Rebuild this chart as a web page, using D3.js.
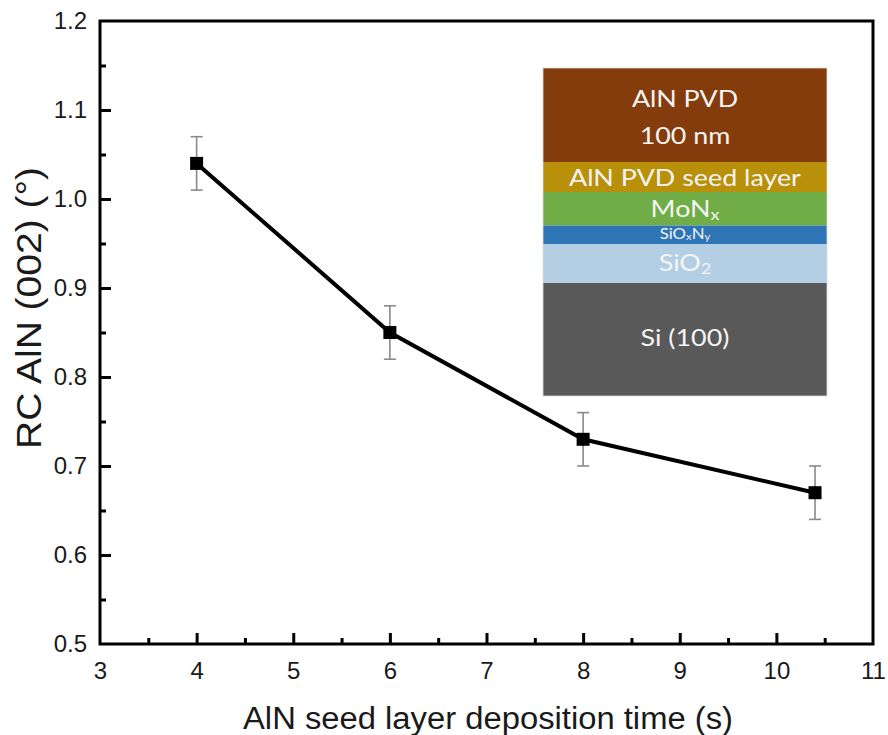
<!DOCTYPE html>
<html>
<head>
<meta charset="utf-8">
<script src="https://cdn.jsdelivr.net/npm/d3@7"></script>
<style>
  html, body { margin: 0; padding: 0; background: #fff; }
  svg { display: block; }
</style>
</head>
<body>
<svg id="chart" width="888" height="735"></svg>
<script>
// ---- Data ----
const depositionTime = [4, 6, 8, 10.4];
const rcValues = [1.04, 0.85, 0.73, 0.67];
const rcErrors = [0.03, 0.03, 0.03, 0.03];
const xTicks = [3, 4, 5, 6, 7, 8, 9, 10, 11];
const yTicks = [0.5, 0.6, 0.7, 0.8, 0.9, 1.0, 1.1, 1.2];
const xMinorTicks = [3.5, 4.5, 5.5, 6.5, 7.5, 8.5, 9.5, 10.5];
const yMinorTicks = [0.55, 0.65, 0.75, 0.85, 0.95, 1.05, 1.15];

// Layer stack (inset), top to bottom, with relative thickness in arbitrary units
const layerNames = ["AlN PVD", "AlN PVD seed layer", "MoNx", "SiOxNy", "SiO2", "Si (100)"];
const layerThickness = [94, 30, 33.5, 18.5, 39, 113];

const svg = d3.select("#chart");
const x = d3.scaleLinear().domain([3, 11]).range([100, 873]);
const y = d3.scaleLinear().domain([0.5, 1.2]).range([644, 21]);

const font = "Liberation Sans, Arial, sans-serif";
const txtCol = "#1a1a1a";

// Frame
svg.append("rect")
  .attr("x", x(3)).attr("y", y(1.2))
  .attr("width", x(11) - x(3)).attr("height", y(0.5) - y(1.2))
  .attr("fill", "none").attr("stroke", "#000").attr("stroke-width", 3);

// Bottom axis
const xAxis = d3.axisBottom(x).tickValues(xTicks).tickSize(-11).tickPadding(18)
  .tickFormat(d3.format("d"));
const gx = svg.append("g").attr("transform", `translate(0,${y(0.5)})`).call(xAxis);
gx.select(".domain").remove();
gx.selectAll(".tick line").attr("stroke", "#000").attr("stroke-width", 3);
gx.selectAll(".tick text").attr("font-family", font).attr("font-size", 24).attr("fill", txtCol);
gx.selectAll(".tick").filter(d => d === 3 || d === 11).select("line").remove();

const gxm = svg.append("g").attr("transform", `translate(0,${y(0.5)})`)
  .call(d3.axisBottom(x).tickValues(xMinorTicks).tickSize(-6).tickFormat(""));
gxm.select(".domain").remove();
gxm.selectAll(".tick line").attr("stroke", "#000").attr("stroke-width", 3);

// Left axis
const yAxis = d3.axisLeft(y).tickValues(yTicks).tickSize(-11).tickPadding(13)
  .tickFormat(d3.format(".1f"));
const gy = svg.append("g").attr("transform", `translate(${x(3)},0)`).call(yAxis);
gy.select(".domain").remove();
gy.selectAll(".tick line").attr("stroke", "#000").attr("stroke-width", 3);
gy.selectAll(".tick text").attr("font-family", font).attr("font-size", 24).attr("fill", txtCol);
gy.selectAll(".tick").filter(d => d === 0.5 || d === 1.2).select("line").remove();

const gym = svg.append("g").attr("transform", `translate(${x(3)},0)`)
  .call(d3.axisLeft(y).tickValues(yMinorTicks).tickSize(-6).tickFormat(""));
gym.select(".domain").remove();
gym.selectAll(".tick line").attr("stroke", "#000").attr("stroke-width", 3);

// Axis titles
svg.append("text")
  .attr("x", 488).attr("y", 729)
  .attr("text-anchor", "middle").attr("font-family", font).attr("font-size", 31).attr("fill", txtCol)
  .attr("textLength", 490).attr("lengthAdjust", "spacingAndGlyphs")
  .text("AlN seed layer deposition time (s)");
svg.append("text")
  .attr("transform", `translate(41,308) rotate(-90)`)
  .attr("text-anchor", "middle").attr("font-family", font).attr("font-size", 35).attr("fill", txtCol)
  .attr("textLength", 282).attr("lengthAdjust", "spacingAndGlyphs")
  .text("RC AlN (002) (°)");

// Inset: layer stack
const stackX0 = 543, stackX1 = 827, stackY0 = 68, stackY1 = 396;
const layerColors = ["#843C0C", "#B8900A", "#70AD47", "#2E75B6", "#B4CFE4", "#595959"];
const total = d3.sum(layerThickness);
const sy = d3.scaleLinear().domain([0, total]).range([stackY0, stackY1]);
let acc = 0;
const layers = layerNames.map((n, i) => {
  const o = { name: n, y0: acc, y1: acc + layerThickness[i], color: layerColors[i] };
  acc += layerThickness[i];
  return o;
});
const inset = svg.append("g");
inset.selectAll("rect").data(layers).join("rect")
  .attr("x", stackX0).attr("width", stackX1 - stackX0)
  .attr("y", d => sy(d.y0)).attr("height", d => sy(d.y1) - sy(d.y0))
  .attr("fill", d => d.color);
inset.append("rect")
  .attr("x", stackX0).attr("y", stackY0)
  .attr("width", stackX1 - stackX0).attr("height", stackY1 - stackY0)
  .attr("fill", "none").attr("stroke", "#ddd").attr("stroke-width", 0.8);

const cx = (stackX0 + stackX1) / 2;
const lf = "Lato, 'Open Sans', sans-serif";
const tcol = "#f4f4f4";
const labelsG = inset.append("g")
  .attr("transform", `translate(${cx},0) scale(1.12,1) translate(${-cx},0)`);
function label(yc, size) {
  return labelsG.append("text").attr("x", cx).attr("y", yc).attr("text-anchor", "middle")
    .attr("dominant-baseline", "central").attr("font-family", lf).attr("font-size", size).attr("fill", tcol);
}
const mid = i => (sy(layers[i].y0) + sy(layers[i].y1)) / 2;
label(mid(0) - 17, 24).text("AlN PVD");
label(mid(0) + 20, 24).text("100 nm");
label(mid(1), 24).text("AlN PVD seed layer");
const mo = label(mid(2) - 1, 24);
mo.append("tspan").text("MoN");
mo.append("tspan").attr("font-size", 16).attr("dy", 6).text("x");
const so = label(mid(3) - 2, 15);
so.append("tspan").text("SiO");
so.append("tspan").attr("font-size", 10).attr("dy", 3).text("x");
so.append("tspan").attr("dy", -3).text("N");
so.append("tspan").attr("font-size", 10).attr("dy", 3).text("y");
const s2 = label(mid(4) - 2, 24);
s2.append("tspan").text("SiO");
s2.append("tspan").attr("font-size", 16).attr("dy", 6).text("2");
label(mid(5) - 3, 24).text("Si (100)");

// Data line
const pts = depositionTime.map((t, i) => ({ t, v: rcValues[i], e: rcErrors[i] }));
svg.append("path").datum(pts)
  .attr("d", d3.line().x(d => x(d.t)).y(d => y(d.v)))
  .attr("fill", "none").attr("stroke", "#000").attr("stroke-width", 4);

// Error bars
const eb = svg.append("g").attr("stroke", "#8a8a8a").attr("stroke-width", 1.6);
eb.selectAll("line.v").data(pts).join("line").attr("class", "v")
  .attr("x1", d => x(d.t)).attr("x2", d => x(d.t))
  .attr("y1", d => y(d.v + d.e)).attr("y2", d => y(d.v - d.e));
eb.selectAll("line.t").data(pts).join("line").attr("class", "t")
  .attr("x1", d => x(d.t) - 6).attr("x2", d => x(d.t) + 6)
  .attr("y1", d => y(d.v + d.e)).attr("y2", d => y(d.v + d.e));
eb.selectAll("line.b").data(pts).join("line").attr("class", "b")
  .attr("x1", d => x(d.t) - 6).attr("x2", d => x(d.t) + 6)
  .attr("y1", d => y(d.v - d.e)).attr("y2", d => y(d.v - d.e));

// Markers
svg.append("g").selectAll("rect").data(pts).join("rect")
  .attr("x", d => x(d.t) - 6.5).attr("y", d => y(d.v) - 6.5)
  .attr("width", 13).attr("height", 13).attr("fill", "#000");
</script>
</body>
</html>
